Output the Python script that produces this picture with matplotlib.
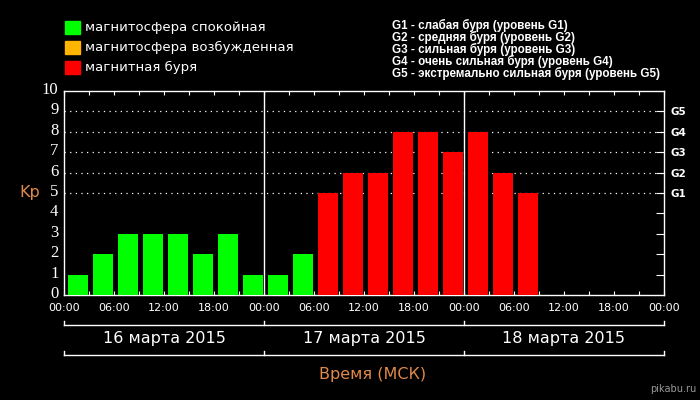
import matplotlib
matplotlib.use('Agg')
import matplotlib.pyplot as plt
import matplotlib.transforms as mtransforms
import numpy as np

# Data: Kp index, 3-hour intervals, 16-18 March 2015
kp_values = [1, 2, 3, 3, 3, 2, 3, 1,
             1, 2, 5, 6, 6, 8, 8, 7,
             8, 6, 5]
days = ['16 марта 2015', '17 марта 2015', '18 марта 2015']
hour_labels = ['00:00', '06:00', '12:00', '18:00']
g_levels = ['G1', 'G2', 'G3', 'G4', 'G5']
legend_labels = ['магнитосфера спокойная', 'магнитосфера возбужденная', 'магнитная буря']
g_descr = ['G1 - слабая буря (уровень G1)',
           'G2 - средняя буря (уровень G2)',
           'G3 - сильная буря (уровень G3)',
           'G4 - очень сильная буря (уровень G4)',
           'G5 - экстремально сильная буря (уровень G5)']

GREEN = '#00ff00'
ORANGE = '#ffb400'
RED = '#ff0000'
TXT_ORANGE = '#e0894a'

def bar_color(v):
    if v >= 5:
        return RED
    if v == 4:
        return ORANGE
    return GREEN

fig = plt.figure(figsize=(7, 4), dpi=100, facecolor='black')
ax = fig.add_axes([64 / 700, 105 / 400, 600 / 700, 204 / 400])
ax.set_facecolor('black')

step = 3
x = np.arange(len(kp_values)) * step
ax.bar(x + 0.5, kp_values, width=2.4, align='edge',
       color=[bar_color(v) for v in kp_values], zorder=3)

total_h = 24 * len(days)
ax.set_xlim(0, total_h)
ax.set_ylim(0, 10)

for s in ax.spines.values():
    s.set_color('white')
    s.set_linewidth(1)

# dotted grid at G levels
for lvl in range(5, 10):
    ax.axhline(lvl, color='white', lw=0.9, ls=(0, (1, 3.5)), zorder=1)
# day separators
for i in range(1, len(days)):
    ax.axvline(i * 24, color='white', lw=1, zorder=2)

# x ticks every 3h, labels every 6h
xt = np.arange(0, total_h + 1, step)
xl = [hour_labels[(h % 24) // 6] if h % 6 == 0 else '' for h in xt]
ax.set_xticks(xt)
ax.set_xticklabels(xl)
ax.tick_params(axis='x', direction='in', length=3, color='white',
               top=True, labelcolor='white', labelsize=8, pad=6)

# left y labels
ax.set_yticks(range(0, 11))
ax.set_yticklabels([str(v) for v in range(0, 11)],
                   fontfamily='Liberation Serif', fontsize=12)
ax.tick_params(axis='y', length=0, labelcolor='white', pad=4)
shift_up = mtransforms.ScaledTranslation(0, 3 / 100, fig.dpi_scale_trans)
for lab in ax.get_yticklabels():
    lab.set_transform(lab.get_transform() + shift_up)

# right axis: G levels
ax2 = ax.twinx()
ax2.set_ylim(0, 10)
ax2.set_yticks(range(1, 10))
ax2.set_yticklabels([''] * 4 + g_levels, fontweight='bold', fontsize=7.5)
ax2.tick_params(axis='y', direction='in', length=6, color='white',
                labelcolor='white', pad=5)
for s in ax2.spines.values():
    s.set_visible(False)

ax.text(-0.04, 0.5, 'Kp', transform=ax.transAxes, color=TXT_ORANGE,
        fontsize=11.5, ha='right', va='center')

# day brackets below axis
tr = mtransforms.blended_transform_factory(ax.transData, fig.transFigure)
for y_line, y_tick in [(1 - 325 / 400, 1 - 321 / 400), (1 - 355 / 400, 1 - 351 / 400)]:
    ax.plot([0, total_h], [y_line, y_line], color='white', lw=1,
            transform=tr, clip_on=False)
    for i in range(len(days) + 1):
        ax.plot([i * 24, i * 24], [y_line, y_tick], color='white', lw=1,
                transform=tr, clip_on=False)
for i, d in enumerate(days):
    ax.text(i * 24 + 12, 1 - 339 / 400, d, transform=tr, color='white',
            fontsize=11.5, ha='center', va='center')

fig.text(373 / 700, 1 - 375 / 400, 'Время (МСК)', color=TXT_ORANGE,
         fontsize=11.5, ha='center', va='center')
fig.text(673 / 700, 1 - 389 / 400, 'pikabu.ru', color='#999999',
         fontsize=7, ha='center', va='center')

# legend (top left)
for i, (lab, col) in enumerate(zip(legend_labels, [GREEN, ORANGE, RED])):
    yc = 27 + i * 20
    fig.patches.append(plt.Rectangle((65 / 700, 1 - (yc + 7) / 400), 15 / 700, 13 / 400,
                                     transform=fig.transFigure, color=col))
    fig.text(85 / 700, 1 - yc / 400, lab, color='white', fontsize=9.5,
             ha='left', va='center')

# G descriptions (top right)
for i, t in enumerate(g_descr):
    fig.text(392 / 700, 1 - (25 + i * 12) / 400, t, color='white',
             fontsize=8.4, fontweight='bold', fontfamily='Liberation Sans',
             ha='left', va='center')

fig.savefig('out.png', dpi=100, facecolor='black')
